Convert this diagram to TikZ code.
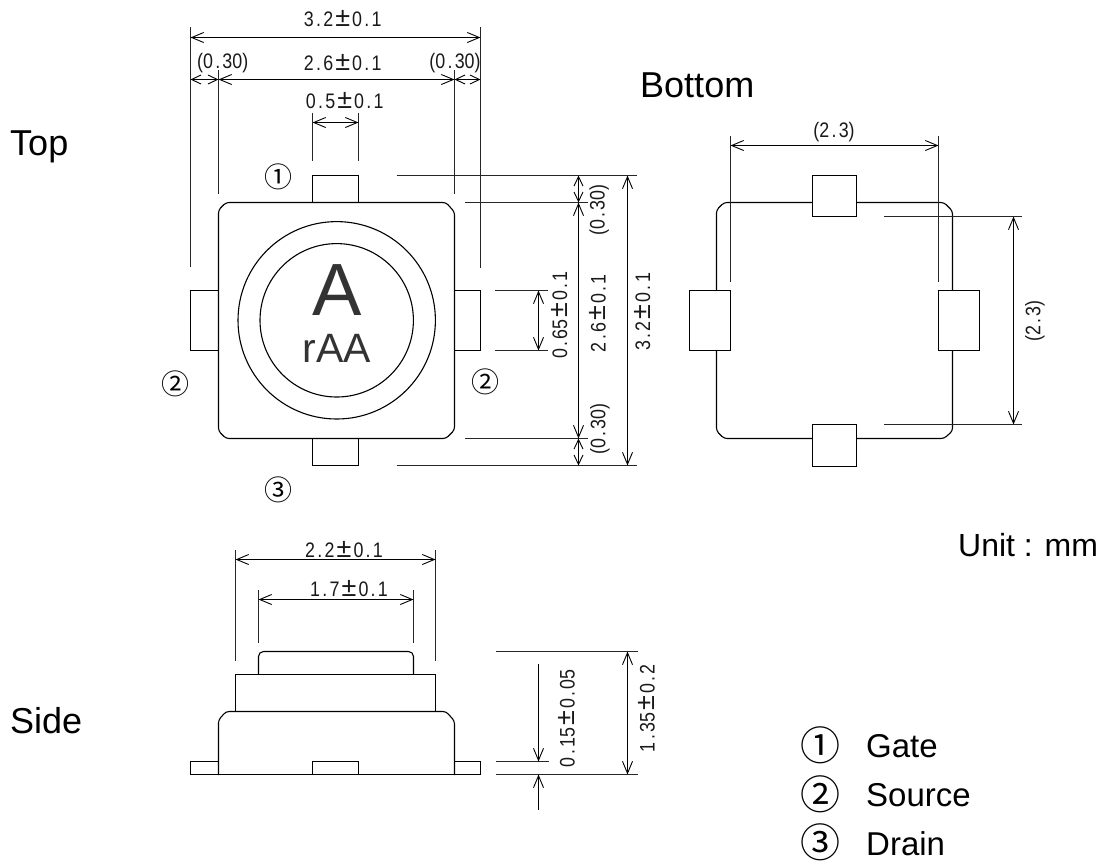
\documentclass[tikz,border=0pt]{standalone}
\usepackage{fontspec}
\usetikzlibrary{arrows.meta}
\setmainfont{Liberation Sans}
\newfontfamily\dimfont[FakeStretch=0.85]{Liberation Sans}
\newfontfamily\cjkfont{Noto Sans CJK JP}
\newcommand{\PM}{\makebox[19pt]{\fontsize{27}{27}\selectfont\rmfamily ±}}
\newcommand{\Dec}{\makebox[9.5pt]{.}}
\tikzset{
  x=1pt,y=-1pt,
  partbox/.style={draw=black,line width=1.1pt,fill=white},
  outlinepath/.style={draw=black,line width=1.1pt},
  leaderline/.style={draw=black!85,line width=1.1pt},
  dimline/.style={draw=black,line width=1.1pt,{Straight Barb[length=12pt,width=10pt,line width=.9pt]}-{Straight Barb[length=12pt,width=10pt,line width=.9pt]}},
  shortdim/.style={draw=black,line width=1.1pt,{Straight Barb[length=9.5pt,width=9pt,line width=.9pt]}-{Straight Barb[length=9.5pt,width=9pt,line width=.9pt]}},
  endarrow/.style={draw=black,line width=1.1pt,-{Straight Barb[length=12pt,width=10pt,line width=.9pt]}},
  dimtext/.style={inner sep=0pt,font=\dimfont\fontsize{21}{21}\selectfont,text=black!90},
  vdimtext/.style={dimtext,rotate=90},
  pintext/.style={inner sep=0pt,font=\cjkfont\fontsize{28}{28}\selectfont},
  legendpin/.style={inner sep=0pt,font=\cjkfont\fontsize{40}{40}\selectfont},
  headingtext/.style={inner sep=0pt,anchor=base west,font=\fontsize{36}{36}\selectfont},
  legendtext/.style={inner sep=0pt,anchor=base west,font=\fontsize{33}{33}\selectfont},
  marktext/.style={inner sep=0pt,anchor=base,text=black!80}
}
\begin{document}
\begin{tikzpicture}
\useasboundingbox (0,0) rectangle (1102,863);
% Titles
\node[headingtext] (ttop) at (10,155) {Top};
\node[headingtext] (tbottom) at (640,97) {Bottom};
\node[headingtext] (tside) at (10,733.5) {Side};
\node[legendtext,font=\fontsize{32}{32}\selectfont] (tunit) at (958,556) {Unit : mm};
% --- Top view: leads and body
\path[partbox] (312.5,202.5) rectangle (358.5,175.5);
\path[partbox] (312.5,438.5) rectangle (358.5,465.5);
\path[partbox] (190.5,290.5) rectangle (218.5,350.5);
\path[partbox] (454.5,290.5) rectangle (480.5,350.5);
\path[outlinepath,rounded corners=3pt,fill=white] (218.5,210) -- (226,202.5) -- (446,202.5) -- (454.5,212) -- (454.5,430) -- (446,438.5) -- (226,438.5) -- (218.5,431) -- cycle;
\path[outlinepath] (336.7,320.3) circle[radius=98.7];
\path[outlinepath] (336.7,320.3) circle[radius=76.7];
\node[marktext,font=\fontsize{74}{74}\selectfont] (markA) at (336.7,315) {A};
\node[marktext,font=\fontsize{41}{41}\selectfont] (markB) at (336.7,362.7) {rAA};
% Top view: vertical extension lines
\path[leaderline] (190.5,27) -- (190.5,267);
\path[leaderline] (480.5,27) -- (480.5,267.7);
\path[leaderline] (218.5,70) -- (218.5,194);
\path[leaderline] (454.5,70) -- (454.5,194);
\path[leaderline] (312.5,113) -- (312.5,160.7);
\path[leaderline] (358.5,113) -- (358.5,160.7);
% Top view: horizontal dimensions
\path[dimline] (190.5,37.5) -- (480.5,37.5);
\path[shortdim] (190.5,79.5) -- (218.5,79.5);
\path[dimline] (218.5,79.5) -- (454.5,79.5);
\path[shortdim] (454.5,79.5) -- (480.5,79.5);
\path[dimline] (312.5,122.5) -- (358.5,122.5);
\node[dimtext] (d1) at (342.7,18.3) {3\Dec 2\PM 0\Dec 1};
\node[dimtext] (d2) at (222.7,63) {(0\Dec 30)};
\node[dimtext] (d3) at (342.7,63) {2\Dec 6\PM 0\Dec 1};
\node[dimtext] (d4) at (455,63) {(0\Dec 30)};
\node[dimtext] (d5) at (344.7,101) {0\Dec 5\PM 0\Dec 1};
% Top view: horizontal extension lines
\path[leaderline] (396.7,175.5) -- (637.3,175.5);
\path[leaderline] (465,202.5) -- (588,202.5);
\path[leaderline] (495,290.5) -- (548,290.5);
\path[leaderline] (495,350.5) -- (548,350.5);
\path[leaderline] (465,438.5) -- (588,438.5);
\path[leaderline] (396.7,465.5) -- (637.3,465.5);
% Top view: vertical dimensions
\path[shortdim] (578.5,175.5) -- (578.5,202.5);
\path[dimline] (578.5,202.5) -- (578.5,438.5);
\path[shortdim] (578.5,438.5) -- (578.5,465.5);
\path[dimline] (627.5,175.5) -- (627.5,465.5);
\path[dimline] (538.5,290.5) -- (538.5,350.5);
\node[vdimtext] (d6) at (559.3,315) {0\Dec 65\PM 0\Dec 1};
\node[vdimtext] (d7) at (597.7,313.3) {2\Dec 6\PM 0\Dec 1};
\node[vdimtext] (d8) at (642.3,311.7) {3\Dec 2\PM 0\Dec 1};
\node[vdimtext] (d9) at (599.3,210) {(0\Dec 30)};
\node[vdimtext] (d10) at (600,429) {(0\Dec 30)};
% Pin numbers
\node[pintext] (p1) at (278.3,176.7) {①};
\node[pintext] (p2) at (175,384) {②};
\node[pintext] (p3) at (485,382.3) {②};
\node[pintext] (p4) at (278.3,490) {③};
% --- Bottom view
\path[outlinepath,rounded corners=3pt] (716.5,210) -- (724,202.5) -- (944,202.5) -- (952.5,211) -- (952.5,431) -- (944,438.5) -- (724,438.5) -- (716.5,431) -- cycle;
\path[partbox] (812.5,175.5) rectangle (856.5,216.5);
\path[partbox] (812.5,424.5) rectangle (856.5,466.5);
\path[partbox] (689.5,290.5) rectangle (730.5,350.5);
\path[partbox] (938.5,290.5) rectangle (979.5,350.5);
\path[leaderline] (730.5,135.7) -- (730.5,282.3);
\path[leaderline] (938.5,135.7) -- (938.5,282.3);
\path[dimline] (730.5,145.5) -- (938.5,145.5);
\node[dimtext] (d11) at (834,132.3) {(2\Dec 3)};
\path[leaderline] (884,216.5) -- (1022.3,216.5);
\path[leaderline] (884,424.5) -- (1022.3,424.5);
\path[dimline] (1013.5,216.5) -- (1013.5,424.5);
\node[vdimtext] (d12) at (1035,321) {(2\Dec 3)};
% --- Side view
\path[partbox,rounded corners=5pt] (258.5,680) -- (258.5,651.5) -- (413.5,651.5) -- (413.5,680);
\path[partbox] (235.5,674.5) rectangle (435.5,711.5);
\path[partbox] (190.5,761.5) rectangle (218.5,774.5);
\path[partbox] (454.5,761.5) rectangle (480.5,774.5);
\path[partbox,rounded corners=3pt] (218.5,775) -- (218.5,720) -- (226,711.5) -- (446,711.5) -- (454.5,721) -- (454.5,775);
\path[outlinepath] (218.5,774.5) -- (454.5,774.5);
\path[partbox] (312.5,774.5) rectangle (358.5,761.5);
\path[leaderline] (235.5,550) -- (235.5,661);
\path[leaderline] (435.5,550) -- (435.5,661);
\path[leaderline] (258.5,590) -- (258.5,643.3);
\path[leaderline] (413.5,590) -- (413.5,643.3);
\path[dimline] (235.5,559.5) -- (435.5,559.5);
\path[dimline] (258.5,599.5) -- (413.5,599.5);
\node[dimtext] (d13) at (344,550) {2\Dec 2\PM 0\Dec 1};
\node[dimtext] (d14) at (349,588.7) {1\Dec 7\PM 0\Dec 1};
\path[leaderline] (496,651.5) -- (637.7,651.5);
\path[leaderline] (496,761.5) -- (549.3,761.5);
\path[leaderline] (496,774.5) -- (637.7,774.5);
\path[dimline] (627.5,651.5) -- (627.5,774.5);
\path[endarrow] (538.5,664.3) -- (538.5,761.5);
\path[endarrow] (538.5,810) -- (538.5,774.5);
\node[vdimtext] (d15) at (566.7,718.3) {0\Dec 15\PM 0\Dec 05};
\node[vdimtext] (d16) at (646.7,708.3) {1\Dec 35\PM 0\Dec 2};
% --- Legend
\node[legendpin] (l1) at (820,745) {①};
\node[legendpin] (l2) at (820,794) {②};
\node[legendpin] (l3) at (820,842) {③};
\node[legendtext] (lg) at (866,757.7) {Gate};
\node[legendtext] (ls) at (866,806.7) {Source};
\node[legendtext] (ld) at (866,855) {Drain};
\end{tikzpicture}
\end{document}
